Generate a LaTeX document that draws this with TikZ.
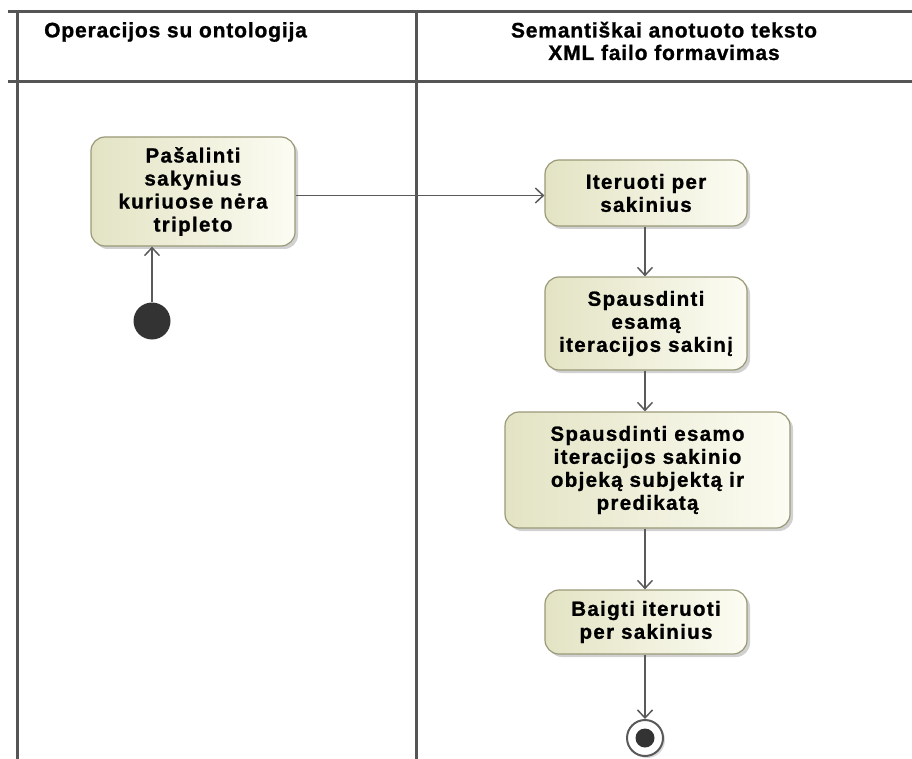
\documentclass[tikz,border=0pt]{standalone}
\usepackage{fontspec}
\setmainfont{Liberation Sans}[LetterSpace=4,FakeBold=1.1]
\newfontfamily\actfont{Liberation Sans}[LetterSpace=6.5,FakeBold=1.1]
\usetikzlibrary{arrows.meta,shadows}
\definecolor{laneline}{HTML}{555555}
\definecolor{actborder}{HTML}{9A9A78}
\definecolor{actlight}{HTML}{FCFCF3}
\definecolor{actdark}{HTML}{E3E3C4}
\definecolor{flowline}{HTML}{5A5A5A}
\definecolor{dotfill}{HTML}{333333}
\begin{document}
\begin{tikzpicture}[x=1pt,y=-1pt,
  laneline/.style={draw=laneline,line width=3pt},
  action/.style={draw=actborder,line width=1.2pt,rounded corners=14pt,
    left color=actdark,right color=actlight,
    drop shadow={shadow xshift=3pt,shadow yshift=-3pt,fill=black,opacity=0.18},
    font=\actfont\bfseries\fontsize{20.5}{23}\selectfont,align=center,inner sep=0pt},
  header/.style={font=\bfseries\fontsize{21}{22.5}\selectfont,align=center,inner sep=0pt},
  flow/.style={draw=flowline,line width=1.5pt,
    -{Straight Barb[length=8pt,width=15pt,line width=1.5pt]}}
]
\useasboundingbox (0,0) rectangle (912,759);

% swimlane frame
\draw[laneline] (8,12) -- (912,12);
\draw[laneline] (8,82) -- (912,82);
\draw[laneline] (17,10) -- (17,759);
\draw[laneline] (416,10) -- (416,759);

% lane titles
\node[header,anchor=west] (h1) at (44,32) {Operacijos su ontologija};
\node[header] (h2) at (664,41) {Semantiškai anotuoto teksto\\XML failo formavimas};

% actions
\node[action,minimum width=204pt,minimum height=109pt] (n1) at (193,191.5)
  {Pašalinti\\sakynius\\kuriuose nėra\\tripleto};
\node[action,minimum width=202pt,minimum height=66pt] (n2) at (646,193)
  {Iteruoti per\\sakinius};
\node[action,minimum width=202pt,minimum height=93pt] (n3) at (646,323.5)
  {Spausdinti\\esamą\\iteracijos sakinį};
\node[action,minimum width=285pt,minimum height=116pt] (n4) at (647.5,470)
  {Spausdinti esamo\\iteracijos sakinio\\objeką subjektą ir\\predikatą};
\node[action,minimum width=202pt,minimum height=64pt] (n5) at (646,622)
  {Baigti iteruoti\\per sakinius};

% initial and final nodes
\node[circle,fill=dotfill,minimum size=37pt,inner sep=0pt] (start) at (152,321) {};
\node[circle,draw=flowline,line width=2pt,fill=white,minimum size=36pt,inner sep=0pt,
  drop shadow={shadow xshift=2pt,shadow yshift=-2pt,fill=black,opacity=0.15}] (stop) at (645,738) {};
\node[circle,fill=dotfill,minimum size=19pt,inner sep=0pt] (stopdot) at (stop) {};

% control flows
\draw[flow] (start.north) -- (start.north |- n1.south);
\draw[flow] ([yshift=-4pt]n1.east) -- ([yshift=-4pt]n1.east -| n2.west);
\draw[flow] (n2.south -| stop.north) -- (n3.north -| stop.north);
\draw[flow] (n3.south -| stop.north) -- (n4.north -| stop.north);
\draw[flow] (n4.south -| stop.north) -- (n5.north -| stop.north);
\draw[flow] (n5.south -| stop.north) -- (stop.north);
\end{tikzpicture}
\end{document}
